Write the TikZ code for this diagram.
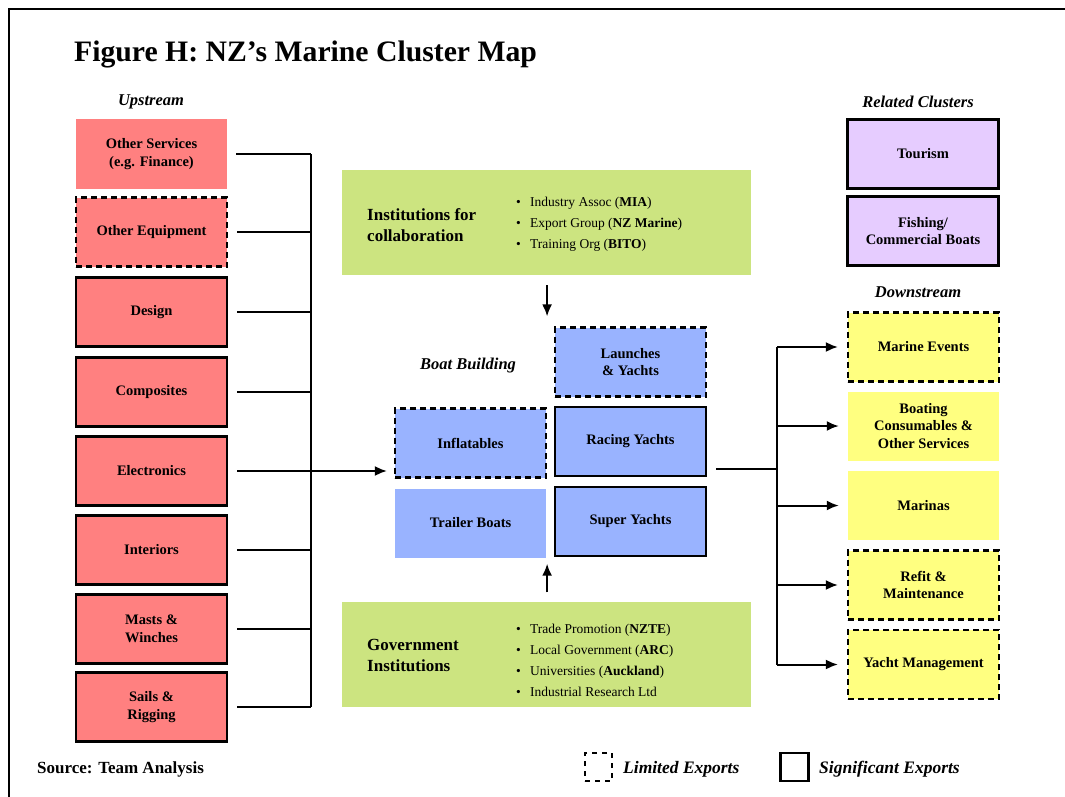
\documentclass[tikz,border=0pt]{standalone}
\usepackage{fontspec}
\setmainfont{Liberation Serif}
\usetikzlibrary{arrows.meta}
\definecolor{upred}{RGB}{255,128,128}
\definecolor{downyel}{RGB}{255,255,128}
\definecolor{boatblue}{RGB}{153,179,255}
\definecolor{instgreen}{RGB}{204,228,128}
\definecolor{relpurple}{RGB}{230,204,255}
\tikzset{
  box/.style={minimum width=151pt, minimum height=69pt, inner sep=0pt, align=center,
    font=\bfseries\fontsize{14.5}{17.5}\selectfont},
  solidb/.style={draw, line width=2.4pt},
  dashb/.style={draw, line width=2.2pt, dash pattern=on 6pt off 4pt},
  upbox/.style={box, fill=upred},
  dnbox/.style={box, fill=downyel},
  bbbox/.style={box, fill=boatblue},
  rcbox/.style={box, fill=relpurple},
  greenbox/.style={fill=instgreen, minimum width=409pt, minimum height=105pt, inner sep=0pt},
  grhead/.style={anchor=west, inner sep=0pt, align=left, font=\bfseries\fontsize{17}{21}\selectfont},
  grlist/.style={anchor=west, inner sep=0pt, align=left, font=\fontsize{13.5}{21}\selectfont},
  seclabel/.style={inner sep=0pt, font=\bfseries\itshape\fontsize{16.5}{20}\selectfont},
  thinln/.style={line width=1.3pt},
  arr/.style={line width=2pt, -{Latex[length=12pt,width=10pt]}},
  conn/.style={line width=2pt}
}
\newcommand{\bul}{\makebox[14pt][l]{\textbullet}}
\begin{document}
\begin{tikzpicture}[x=1pt,y=-1pt]
\useasboundingbox (0,0) rectangle (1065,797);
% frame
\draw[line width=2.6pt] (9,800) -- (9,9) -- (1068,9);
% title
\node[anchor=base west, inner sep=0pt, font=\bfseries\fontsize{29.7}{34}\selectfont] (title) at (74,62) {Figure H: NZ’s Marine Cluster Map};
% section labels
\node[seclabel] (lup) at (151,102) {Upstream};
\node[seclabel] (lrel) at (918,102) {Related Clusters};
\node[seclabel] (ldown) at (918,292) {Downstream};
\node[seclabel] (lboat) at (468,366) {Boat Building};
% upstream
\node[upbox] (u1) at (151.5,154) {Other Services\\(e.g. Finance)};
\node[upbox, dashb] (u2) at (151.5,232) {Other Equipment};
\node[upbox, solidb] (u3) at (151.5,312) {Design};
\node[upbox, solidb] (u4) at (151.5,392) {Composites};
\node[upbox, solidb] (u5) at (151.5,471) {Electronics};
\node[upbox, solidb] (u6) at (151.5,550) {Interiors};
\node[upbox, solidb] (u7) at (151.5,629) {Masts \&\\Winches};
\node[upbox, solidb] (u8) at (151.5,707) {Sails \&\\Rigging};
% related
\node[rcbox, solidb] (r1) at (923,154) {Tourism};
\node[rcbox, solidb] (r2) at (923,231) {Fishing/\\Commercial Boats};
% boat building
\node[bbbox, dashb] (launch) at (630.5,362) {Launches\\\& Yachts};
\node[bbbox, dashb] (infl) at (470.5,443) {Inflatables};
\node[bbbox, solidb] (racing) at (630.5,441.5) {Racing Yachts};
\node[bbbox] (trailer) at (470.5,523) {Trailer Boats};
\node[bbbox, solidb] (super) at (630.5,521.5) {Super Yachts};
% downstream
\node[dnbox, dashb] (d1) at (923.5,347) {Marine Events};
\node[dnbox] (d2) at (923.5,426) {Boating\\Consumables \&\\Other Services};
\node[dnbox] (d3) at (923.5,505.5) {Marinas};
\node[dnbox, dashb] (d4) at (923.5,585) {Refit \&\\Maintenance};
\node[dnbox, dashb] (d5) at (923.5,664.5) {Yacht Management};
% institutions
\node[greenbox] (inst) at (546.5,222.5) {};
\node[grhead] (insth) at (367,225) {Institutions for\\collaboration};
\node[grlist] (instl) at (516,224) {\bul Industry Assoc (\textbf{MIA})\\\bul Export Group (\textbf{NZ Marine})\\\bul Training Org (\textbf{BITO})};
\node[greenbox] (gov) at (546.5,654) {};
\node[grhead] (govh) at (367,655.5) {Government\\Institutions};
\node[grlist] (govl) at (516,660.5) {\bul Trade Promotion (\textbf{NZTE})\\\bul Local Government (\textbf{ARC})\\\bul Universities (\textbf{Auckland})\\\bul Industrial Research Ltd};
% upstream bracket
\coordinate (bt) at (311,154);
\coordinate (bb) at (311,707);
\draw[thinln] (bt) -- (bb);
\foreach \u in {u1,u2,u3,u4,u5,u6,u7,u8}
  \draw[thinln] ([xshift=9pt]\u.east) -- (\u.east -| bt);
\draw[arr] (u5.east -| bt) -- ([xshift=-7pt]infl.west |- u5.east);
% downstream bracket
\coordinate (rb) at (777,469);
\draw[conn] ([xshift=9pt]racing.east |- rb) -- (rb);
\draw[conn] (rb |- d1.west) -- (rb |- d5.west);
\foreach \d in {d1,d2,d3,d4,d5}
  \draw[arr] (rb |- \d.west) -- ([xshift=-9pt]\d.west);
% vertical arrows
\draw[arr] ([yshift=-10pt]inst.south -| infl.east) -- ([yshift=10pt]launch.north -| infl.east);
\draw[arr] ([yshift=9pt]gov.north -| infl.east) -- ([yshift=-6pt]trailer.south -| infl.east);
% legend
\node[draw, line width=1.6pt, dash pattern=on 5pt off 5pt, minimum width=27pt, minimum height=28pt, inner sep=0pt] (leglim) at (598.5,767) {};
\node[anchor=west, inner sep=0pt, font=\bfseries\itshape\fontsize{17.5}{20}\selectfont] (leglimt) at (623,769) {Limited Exports};
\node[draw, line width=2.6pt, minimum width=28pt, minimum height=28pt, inner sep=0pt] (legsig) at (794.5,767) {};
\node[anchor=west, inner sep=0pt, font=\bfseries\itshape\fontsize{17.5}{20}\selectfont] (legsigt) at (819,769) {Significant Exports};
% source
\node[anchor=west, inner sep=0pt, font=\bfseries\fontsize{17}{20}\selectfont] (src) at (37,769) {Source: Team Analysis};
\end{tikzpicture}
\end{document}
